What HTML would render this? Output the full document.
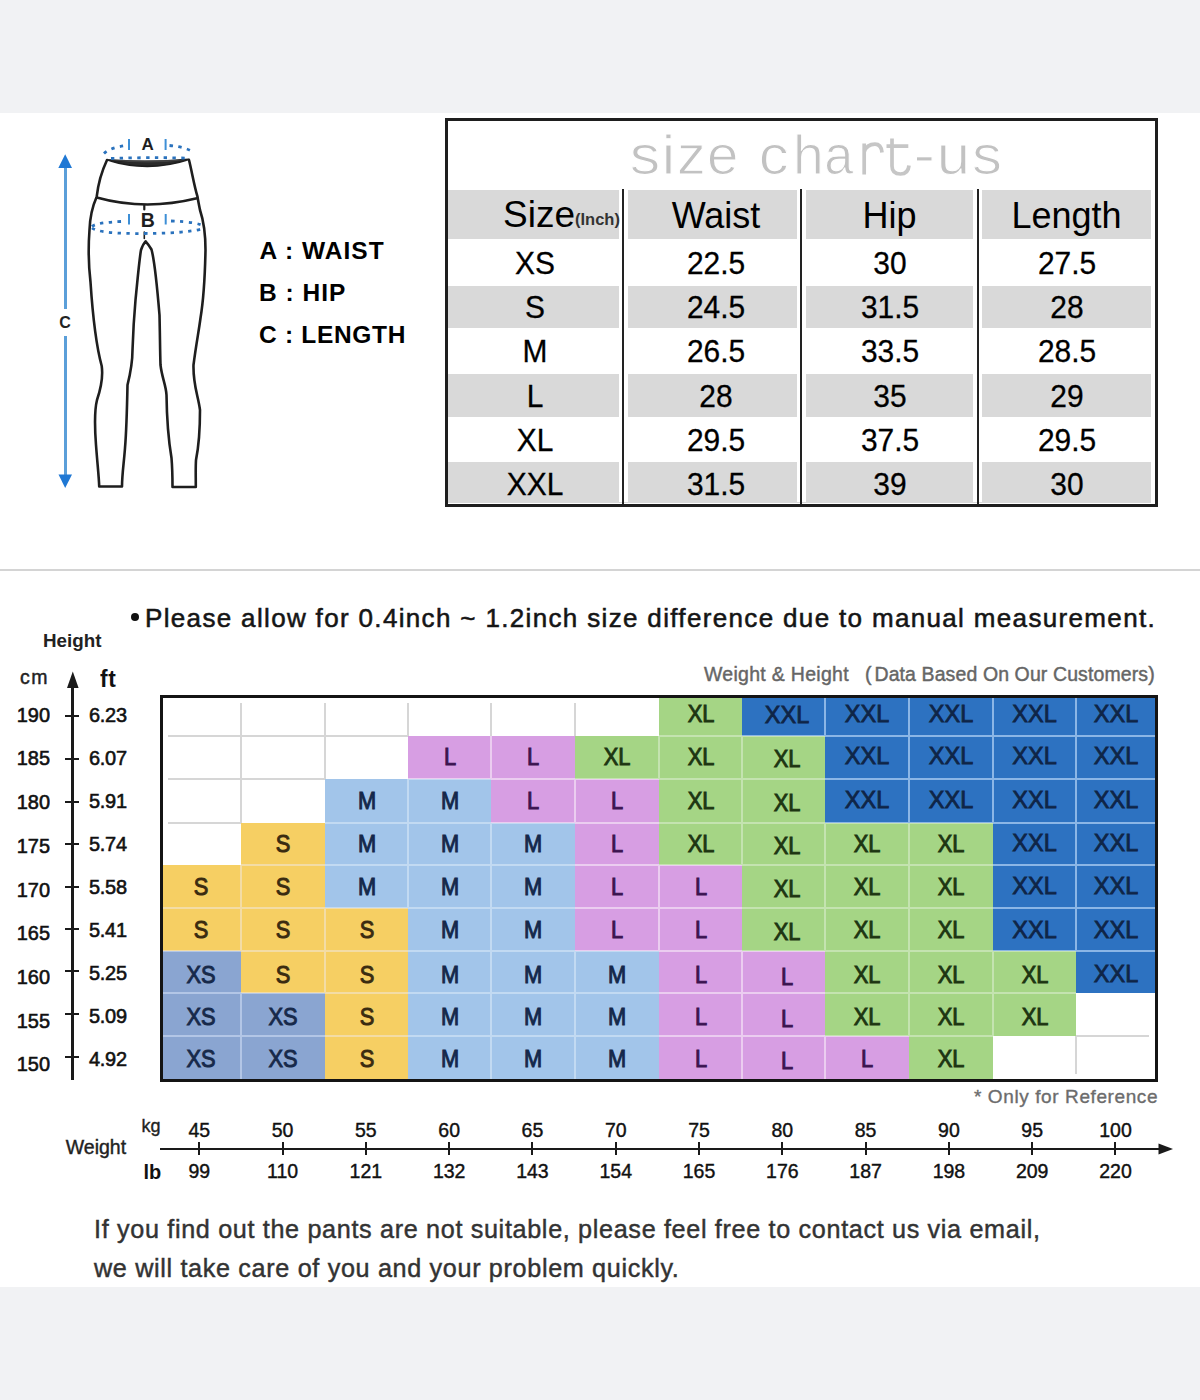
<!DOCTYPE html>
<html><head><meta charset="utf-8"><title>Size chart</title>
<style>
html,body{margin:0;padding:0;}
body{width:1200px;height:1400px;background:#f1f2f4;position:relative;overflow:hidden;font-family:"Liberation Sans", sans-serif;}
.t{position:absolute;line-height:1;white-space:nowrap;}
.r{position:absolute;}
svg{position:absolute;left:0;top:0;}
</style></head><body>
<div class="r" style="left:0.00px;top:113.00px;width:1200.00px;height:1174.00px;background:#fff;"></div>
<div class="r" style="left:448.00px;top:189.50px;width:703.00px;height:49.50px;background:#d9d9d9;"></div>
<div class="r" style="left:448.00px;top:286.00px;width:703.00px;height:42.00px;background:#d9d9d9;"></div>
<div class="r" style="left:448.00px;top:374.00px;width:703.00px;height:43.00px;background:#d9d9d9;"></div>
<div class="r" style="left:448.00px;top:462.00px;width:703.00px;height:40.50px;background:#d9d9d9;"></div>
<div class="t" style="left:629.94px;top:126.60px;font-size:56px;color:#c2c2c2;transform:scaleX(1.085);transform-origin:1.56px 0;-webkit-text-stroke:1.1px #fff;">s</div>
<div class="t" style="left:662.25px;top:126.60px;font-size:56px;color:#c2c2c2;transform:scaleX(1.117);transform-origin:3.75px 0;-webkit-text-stroke:1.1px #fff;">i</div>
<div class="t" style="left:677.23px;top:126.60px;font-size:56px;color:#c2c2c2;transform:scaleX(1.024);transform-origin:2.27px 0;-webkit-text-stroke:1.1px #fff;">z</div>
<div class="t" style="left:706.62px;top:126.60px;font-size:56px;color:#c2c2c2;transform:scaleX(1.008);transform-origin:2.38px 0;-webkit-text-stroke:1.1px #fff;">e</div>
<div class="t" style="left:759.32px;top:126.60px;font-size:56px;color:#c2c2c2;transform:scaleX(1.069);transform-origin:2.38px 0;-webkit-text-stroke:1.1px #fff;">c</div>
<div class="t" style="left:792.82px;top:126.60px;font-size:56px;color:#c2c2c2;transform:scaleX(0.986);transform-origin:3.88px 0;-webkit-text-stroke:1.1px #fff;">h</div>
<div class="t" style="left:823.92px;top:126.60px;font-size:56px;color:#c2c2c2;transform:scaleX(0.935);transform-origin:2.38px 0;-webkit-text-stroke:1.1px #fff;">a</div>
<div class="t" style="left:914.11px;top:126.60px;font-size:56px;color:#c2c2c2;transform:scaleX(1.156);transform-origin:2.49px 0;-webkit-text-stroke:1.1px #fff;">-</div>
<div class="t" style="left:936.66px;top:126.60px;font-size:56px;color:#c2c2c2;transform:scaleX(1.068);transform-origin:3.64px 0;-webkit-text-stroke:1.1px #fff;">u</div>
<div class="t" style="left:972.04px;top:126.60px;font-size:56px;color:#c2c2c2;transform:scaleX(1.069);transform-origin:1.56px 0;-webkit-text-stroke:1.1px #fff;">s</div>
<svg width="1200" height="300" style="position:absolute;left:0;top:0"><g fill="none" stroke="#c6c6c6" stroke-width="3.7"><path d="M864.2,143.5 L864.2,174.5 M864.2,152 C866,146.5 870,144.2 875,144.2 C879,144.2 881.5,147 882,152.5"/><path d="M892,138.5 L892,166 C892,171.5 895,174 900.5,174 C905.5,174 908.5,171 909,165.5 M886.5,146.2 L908.3,146.2"/></g></svg>
<div class="r" style="left:618.50px;top:189.00px;width:9.00px;height:313.00px;background:#fff;"></div>
<div class="r" style="left:622.00px;top:189.00px;width:2.20px;height:316.00px;background:#222;"></div>
<div class="r" style="left:796.50px;top:189.00px;width:9.00px;height:313.00px;background:#fff;"></div>
<div class="r" style="left:800.00px;top:189.00px;width:2.20px;height:316.00px;background:#222;"></div>
<div class="r" style="left:973.00px;top:189.00px;width:9.00px;height:313.00px;background:#fff;"></div>
<div class="r" style="left:976.50px;top:189.00px;width:2.20px;height:316.00px;background:#222;"></div>
<div class="r" style="left:444.5px;top:118px;width:707px;height:382.5px;border:3px solid #1e1e1e;"></div>
<div class="t" style="left:503.00px;top:196.18px;font-size:37px;color:#000;">Size</div>
<div class="t" style="left:575.00px;top:210.83px;font-size:16.5px;color:#333;font-weight:bold;">(Inch)</div>
<div class="t" style="left:616.00px;top:197.53px;width:200px;text-align:center;font-size:36px;color:#000;">Waist</div>
<div class="t" style="left:789.50px;top:197.53px;width:200px;text-align:center;font-size:36px;color:#000;">Hip</div>
<div class="t" style="left:966.50px;top:197.53px;width:200px;text-align:center;font-size:36px;color:#000;">Length</div>
<div class="t" style="left:435.00px;top:246.91px;width:200px;text-align:center;font-size:32px;color:#000;transform:scaleX(0.935);-webkit-text-stroke:0.3px #000;">XS</div>
<div class="t" style="left:615.50px;top:246.91px;width:200px;text-align:center;font-size:32px;color:#000;transform:scaleX(0.935);-webkit-text-stroke:0.3px #000;">22.5</div>
<div class="t" style="left:790.00px;top:246.91px;width:200px;text-align:center;font-size:32px;color:#000;transform:scaleX(0.935);-webkit-text-stroke:0.3px #000;">30</div>
<div class="t" style="left:966.50px;top:246.91px;width:200px;text-align:center;font-size:32px;color:#000;transform:scaleX(0.935);-webkit-text-stroke:0.3px #000;">27.5</div>
<div class="t" style="left:435.00px;top:290.91px;width:200px;text-align:center;font-size:32px;color:#000;transform:scaleX(0.935);-webkit-text-stroke:0.3px #000;">S</div>
<div class="t" style="left:615.50px;top:290.91px;width:200px;text-align:center;font-size:32px;color:#000;transform:scaleX(0.935);-webkit-text-stroke:0.3px #000;">24.5</div>
<div class="t" style="left:790.00px;top:290.91px;width:200px;text-align:center;font-size:32px;color:#000;transform:scaleX(0.935);-webkit-text-stroke:0.3px #000;">31.5</div>
<div class="t" style="left:966.50px;top:290.91px;width:200px;text-align:center;font-size:32px;color:#000;transform:scaleX(0.935);-webkit-text-stroke:0.3px #000;">28</div>
<div class="t" style="left:435.00px;top:334.91px;width:200px;text-align:center;font-size:32px;color:#000;transform:scaleX(0.935);-webkit-text-stroke:0.3px #000;">M</div>
<div class="t" style="left:615.50px;top:334.91px;width:200px;text-align:center;font-size:32px;color:#000;transform:scaleX(0.935);-webkit-text-stroke:0.3px #000;">26.5</div>
<div class="t" style="left:790.00px;top:334.91px;width:200px;text-align:center;font-size:32px;color:#000;transform:scaleX(0.935);-webkit-text-stroke:0.3px #000;">33.5</div>
<div class="t" style="left:966.50px;top:334.91px;width:200px;text-align:center;font-size:32px;color:#000;transform:scaleX(0.935);-webkit-text-stroke:0.3px #000;">28.5</div>
<div class="t" style="left:435.00px;top:379.91px;width:200px;text-align:center;font-size:32px;color:#000;transform:scaleX(0.935);-webkit-text-stroke:0.3px #000;">L</div>
<div class="t" style="left:615.50px;top:379.91px;width:200px;text-align:center;font-size:32px;color:#000;transform:scaleX(0.935);-webkit-text-stroke:0.3px #000;">28</div>
<div class="t" style="left:790.00px;top:379.91px;width:200px;text-align:center;font-size:32px;color:#000;transform:scaleX(0.935);-webkit-text-stroke:0.3px #000;">35</div>
<div class="t" style="left:966.50px;top:379.91px;width:200px;text-align:center;font-size:32px;color:#000;transform:scaleX(0.935);-webkit-text-stroke:0.3px #000;">29</div>
<div class="t" style="left:435.00px;top:423.91px;width:200px;text-align:center;font-size:32px;color:#000;transform:scaleX(0.935);-webkit-text-stroke:0.3px #000;">XL</div>
<div class="t" style="left:615.50px;top:423.91px;width:200px;text-align:center;font-size:32px;color:#000;transform:scaleX(0.935);-webkit-text-stroke:0.3px #000;">29.5</div>
<div class="t" style="left:790.00px;top:423.91px;width:200px;text-align:center;font-size:32px;color:#000;transform:scaleX(0.935);-webkit-text-stroke:0.3px #000;">37.5</div>
<div class="t" style="left:966.50px;top:423.91px;width:200px;text-align:center;font-size:32px;color:#000;transform:scaleX(0.935);-webkit-text-stroke:0.3px #000;">29.5</div>
<div class="t" style="left:435.00px;top:467.91px;width:200px;text-align:center;font-size:32px;color:#000;transform:scaleX(0.935);-webkit-text-stroke:0.3px #000;">XXL</div>
<div class="t" style="left:615.50px;top:467.91px;width:200px;text-align:center;font-size:32px;color:#000;transform:scaleX(0.935);-webkit-text-stroke:0.3px #000;">31.5</div>
<div class="t" style="left:790.00px;top:467.91px;width:200px;text-align:center;font-size:32px;color:#000;transform:scaleX(0.935);-webkit-text-stroke:0.3px #000;">39</div>
<div class="t" style="left:966.50px;top:467.91px;width:200px;text-align:center;font-size:32px;color:#000;transform:scaleX(0.935);-webkit-text-stroke:0.3px #000;">30</div>
<div class="t" style="left:259.50px;top:238.96px;font-size:24.5px;color:#000;font-weight:bold;letter-spacing:1px;">A : WAIST</div>
<div class="t" style="left:259.00px;top:280.76px;font-size:24.5px;color:#000;font-weight:bold;letter-spacing:1px;">B : HIP</div>
<div class="t" style="left:259.00px;top:323.26px;font-size:24.5px;color:#000;font-weight:bold;letter-spacing:0.7px;">C : LENGTH</div>
<div class="r" style="left:0.00px;top:569.00px;width:1200.00px;height:2.00px;background:#d4d4d4;"></div>
<div class="r" style="left:131px;top:613px;width:8px;height:8px;border-radius:50%;background:#111;"></div>
<div class="t" style="left:145.00px;top:605.49px;font-size:26px;color:#151515;letter-spacing:1.34px;-webkit-text-stroke:0.55px #151515;">Please allow for 0.4inch ~ 1.2inch size difference due to manual measurement.</div>
<div class="t" style="left:43.00px;top:632.09px;font-size:18.8px;color:#222;font-weight:bold;">Height</div>
<div class="t" style="left:20.00px;top:668.49px;font-size:19.5px;color:#222;letter-spacing:1.6px;-webkit-text-stroke:0.45px #222;">cm</div>
<div class="t" style="left:100.00px;top:668.11px;font-size:23.5px;color:#111;font-weight:bold;letter-spacing:0.8px;transform:scaleX(0.97);transform-origin:left;">ft</div>
<div class="t" style="left:704.00px;top:664.15px;font-size:20.5px;color:#666;letter-spacing:0.32px;transform:scaleX(0.95);transform-origin:left;-webkit-text-stroke:0.45px #666;">Weight &amp; Height</div>
<div class="t" style="left:865.00px;top:664.15px;font-size:20.5px;color:#666;letter-spacing:0.12px;transform:scaleX(0.95);transform-origin:left;-webkit-text-stroke:0.45px #666;">(<span style="margin-left:3px">Data Based On Our Customers)</span></div>
<div class="r" style="left:162.50px;top:698.00px;width:78.50px;height:38.00px;background:#ffffff;"></div>
<div class="r" style="left:241.00px;top:698.00px;width:84.00px;height:38.00px;background:#ffffff;"></div>
<div class="r" style="left:325.00px;top:698.00px;width:83.00px;height:38.00px;background:#ffffff;"></div>
<div class="r" style="left:408.00px;top:698.00px;width:83.00px;height:38.00px;background:#ffffff;"></div>
<div class="r" style="left:491.00px;top:698.00px;width:84.00px;height:38.00px;background:#ffffff;"></div>
<div class="r" style="left:575.00px;top:698.00px;width:84.00px;height:38.00px;background:#ffffff;"></div>
<div class="r" style="left:659.00px;top:698.00px;width:83.00px;height:38.00px;background:#a5d585;"></div>
<div class="r" style="left:742.00px;top:698.00px;width:83.00px;height:38.00px;background:#2d72c1;"></div>
<div class="r" style="left:825.00px;top:698.00px;width:84.00px;height:38.00px;background:#2d72c1;"></div>
<div class="r" style="left:909.00px;top:698.00px;width:84.00px;height:38.00px;background:#2d72c1;"></div>
<div class="r" style="left:993.00px;top:698.00px;width:83.00px;height:38.00px;background:#2d72c1;"></div>
<div class="r" style="left:1076.00px;top:698.00px;width:78.50px;height:38.00px;background:#2d72c1;"></div>
<div class="r" style="left:162.50px;top:736.00px;width:78.50px;height:43.00px;background:#ffffff;"></div>
<div class="r" style="left:241.00px;top:736.00px;width:84.00px;height:43.00px;background:#ffffff;"></div>
<div class="r" style="left:325.00px;top:736.00px;width:83.00px;height:43.00px;background:#ffffff;"></div>
<div class="r" style="left:408.00px;top:736.00px;width:83.00px;height:43.00px;background:#d79ee3;"></div>
<div class="r" style="left:491.00px;top:736.00px;width:84.00px;height:43.00px;background:#d79ee3;"></div>
<div class="r" style="left:575.00px;top:736.00px;width:84.00px;height:43.00px;background:#a5d585;"></div>
<div class="r" style="left:659.00px;top:736.00px;width:83.00px;height:43.00px;background:#a5d585;"></div>
<div class="r" style="left:742.00px;top:736.00px;width:83.00px;height:43.00px;background:#a5d585;"></div>
<div class="r" style="left:825.00px;top:736.00px;width:84.00px;height:43.00px;background:#2d72c1;"></div>
<div class="r" style="left:909.00px;top:736.00px;width:84.00px;height:43.00px;background:#2d72c1;"></div>
<div class="r" style="left:993.00px;top:736.00px;width:83.00px;height:43.00px;background:#2d72c1;"></div>
<div class="r" style="left:1076.00px;top:736.00px;width:78.50px;height:43.00px;background:#2d72c1;"></div>
<div class="r" style="left:162.50px;top:779.00px;width:78.50px;height:44.00px;background:#ffffff;"></div>
<div class="r" style="left:241.00px;top:779.00px;width:84.00px;height:44.00px;background:#ffffff;"></div>
<div class="r" style="left:325.00px;top:779.00px;width:83.00px;height:44.00px;background:#a2c5ea;"></div>
<div class="r" style="left:408.00px;top:779.00px;width:83.00px;height:44.00px;background:#a2c5ea;"></div>
<div class="r" style="left:491.00px;top:779.00px;width:84.00px;height:44.00px;background:#d79ee3;"></div>
<div class="r" style="left:575.00px;top:779.00px;width:84.00px;height:44.00px;background:#d79ee3;"></div>
<div class="r" style="left:659.00px;top:779.00px;width:83.00px;height:44.00px;background:#a5d585;"></div>
<div class="r" style="left:742.00px;top:779.00px;width:83.00px;height:44.00px;background:#a5d585;"></div>
<div class="r" style="left:825.00px;top:779.00px;width:84.00px;height:44.00px;background:#2d72c1;"></div>
<div class="r" style="left:909.00px;top:779.00px;width:84.00px;height:44.00px;background:#2d72c1;"></div>
<div class="r" style="left:993.00px;top:779.00px;width:83.00px;height:44.00px;background:#2d72c1;"></div>
<div class="r" style="left:1076.00px;top:779.00px;width:78.50px;height:44.00px;background:#2d72c1;"></div>
<div class="r" style="left:162.50px;top:823.00px;width:78.50px;height:42.00px;background:#ffffff;"></div>
<div class="r" style="left:241.00px;top:823.00px;width:84.00px;height:42.00px;background:#f6cf63;"></div>
<div class="r" style="left:325.00px;top:823.00px;width:83.00px;height:42.00px;background:#a2c5ea;"></div>
<div class="r" style="left:408.00px;top:823.00px;width:83.00px;height:42.00px;background:#a2c5ea;"></div>
<div class="r" style="left:491.00px;top:823.00px;width:84.00px;height:42.00px;background:#a2c5ea;"></div>
<div class="r" style="left:575.00px;top:823.00px;width:84.00px;height:42.00px;background:#d79ee3;"></div>
<div class="r" style="left:659.00px;top:823.00px;width:83.00px;height:42.00px;background:#a5d585;"></div>
<div class="r" style="left:742.00px;top:823.00px;width:83.00px;height:42.00px;background:#a5d585;"></div>
<div class="r" style="left:825.00px;top:823.00px;width:84.00px;height:42.00px;background:#a5d585;"></div>
<div class="r" style="left:909.00px;top:823.00px;width:84.00px;height:42.00px;background:#a5d585;"></div>
<div class="r" style="left:993.00px;top:823.00px;width:83.00px;height:42.00px;background:#2d72c1;"></div>
<div class="r" style="left:1076.00px;top:823.00px;width:78.50px;height:42.00px;background:#2d72c1;"></div>
<div class="r" style="left:162.50px;top:865.00px;width:78.50px;height:43.00px;background:#f6cf63;"></div>
<div class="r" style="left:241.00px;top:865.00px;width:84.00px;height:43.00px;background:#f6cf63;"></div>
<div class="r" style="left:325.00px;top:865.00px;width:83.00px;height:43.00px;background:#a2c5ea;"></div>
<div class="r" style="left:408.00px;top:865.00px;width:83.00px;height:43.00px;background:#a2c5ea;"></div>
<div class="r" style="left:491.00px;top:865.00px;width:84.00px;height:43.00px;background:#a2c5ea;"></div>
<div class="r" style="left:575.00px;top:865.00px;width:84.00px;height:43.00px;background:#d79ee3;"></div>
<div class="r" style="left:659.00px;top:865.00px;width:83.00px;height:43.00px;background:#d79ee3;"></div>
<div class="r" style="left:742.00px;top:865.00px;width:83.00px;height:43.00px;background:#a5d585;"></div>
<div class="r" style="left:825.00px;top:865.00px;width:84.00px;height:43.00px;background:#a5d585;"></div>
<div class="r" style="left:909.00px;top:865.00px;width:84.00px;height:43.00px;background:#a5d585;"></div>
<div class="r" style="left:993.00px;top:865.00px;width:83.00px;height:43.00px;background:#2d72c1;"></div>
<div class="r" style="left:1076.00px;top:865.00px;width:78.50px;height:43.00px;background:#2d72c1;"></div>
<div class="r" style="left:162.50px;top:908.00px;width:78.50px;height:43.00px;background:#f6cf63;"></div>
<div class="r" style="left:241.00px;top:908.00px;width:84.00px;height:43.00px;background:#f6cf63;"></div>
<div class="r" style="left:325.00px;top:908.00px;width:83.00px;height:43.00px;background:#f6cf63;"></div>
<div class="r" style="left:408.00px;top:908.00px;width:83.00px;height:43.00px;background:#a2c5ea;"></div>
<div class="r" style="left:491.00px;top:908.00px;width:84.00px;height:43.00px;background:#a2c5ea;"></div>
<div class="r" style="left:575.00px;top:908.00px;width:84.00px;height:43.00px;background:#d79ee3;"></div>
<div class="r" style="left:659.00px;top:908.00px;width:83.00px;height:43.00px;background:#d79ee3;"></div>
<div class="r" style="left:742.00px;top:908.00px;width:83.00px;height:43.00px;background:#a5d585;"></div>
<div class="r" style="left:825.00px;top:908.00px;width:84.00px;height:43.00px;background:#a5d585;"></div>
<div class="r" style="left:909.00px;top:908.00px;width:84.00px;height:43.00px;background:#a5d585;"></div>
<div class="r" style="left:993.00px;top:908.00px;width:83.00px;height:43.00px;background:#2d72c1;"></div>
<div class="r" style="left:1076.00px;top:908.00px;width:78.50px;height:43.00px;background:#2d72c1;"></div>
<div class="r" style="left:162.50px;top:951.00px;width:78.50px;height:42.00px;background:#8aa5d1;"></div>
<div class="r" style="left:241.00px;top:951.00px;width:84.00px;height:42.00px;background:#f6cf63;"></div>
<div class="r" style="left:325.00px;top:951.00px;width:83.00px;height:42.00px;background:#f6cf63;"></div>
<div class="r" style="left:408.00px;top:951.00px;width:83.00px;height:42.00px;background:#a2c5ea;"></div>
<div class="r" style="left:491.00px;top:951.00px;width:84.00px;height:42.00px;background:#a2c5ea;"></div>
<div class="r" style="left:575.00px;top:951.00px;width:84.00px;height:42.00px;background:#a2c5ea;"></div>
<div class="r" style="left:659.00px;top:951.00px;width:83.00px;height:42.00px;background:#d79ee3;"></div>
<div class="r" style="left:742.00px;top:951.00px;width:83.00px;height:42.00px;background:#d79ee3;"></div>
<div class="r" style="left:825.00px;top:951.00px;width:84.00px;height:42.00px;background:#a5d585;"></div>
<div class="r" style="left:909.00px;top:951.00px;width:84.00px;height:42.00px;background:#a5d585;"></div>
<div class="r" style="left:993.00px;top:951.00px;width:83.00px;height:42.00px;background:#a5d585;"></div>
<div class="r" style="left:1076.00px;top:951.00px;width:78.50px;height:42.00px;background:#2d72c1;"></div>
<div class="r" style="left:162.50px;top:993.00px;width:78.50px;height:43.00px;background:#8aa5d1;"></div>
<div class="r" style="left:241.00px;top:993.00px;width:84.00px;height:43.00px;background:#8aa5d1;"></div>
<div class="r" style="left:325.00px;top:993.00px;width:83.00px;height:43.00px;background:#f6cf63;"></div>
<div class="r" style="left:408.00px;top:993.00px;width:83.00px;height:43.00px;background:#a2c5ea;"></div>
<div class="r" style="left:491.00px;top:993.00px;width:84.00px;height:43.00px;background:#a2c5ea;"></div>
<div class="r" style="left:575.00px;top:993.00px;width:84.00px;height:43.00px;background:#a2c5ea;"></div>
<div class="r" style="left:659.00px;top:993.00px;width:83.00px;height:43.00px;background:#d79ee3;"></div>
<div class="r" style="left:742.00px;top:993.00px;width:83.00px;height:43.00px;background:#d79ee3;"></div>
<div class="r" style="left:825.00px;top:993.00px;width:84.00px;height:43.00px;background:#a5d585;"></div>
<div class="r" style="left:909.00px;top:993.00px;width:84.00px;height:43.00px;background:#a5d585;"></div>
<div class="r" style="left:993.00px;top:993.00px;width:83.00px;height:43.00px;background:#a5d585;"></div>
<div class="r" style="left:1076.00px;top:993.00px;width:78.50px;height:43.00px;background:#ffffff;"></div>
<div class="r" style="left:162.50px;top:1036.00px;width:78.50px;height:43.00px;background:#8aa5d1;"></div>
<div class="r" style="left:241.00px;top:1036.00px;width:84.00px;height:43.00px;background:#8aa5d1;"></div>
<div class="r" style="left:325.00px;top:1036.00px;width:83.00px;height:43.00px;background:#f6cf63;"></div>
<div class="r" style="left:408.00px;top:1036.00px;width:83.00px;height:43.00px;background:#a2c5ea;"></div>
<div class="r" style="left:491.00px;top:1036.00px;width:84.00px;height:43.00px;background:#a2c5ea;"></div>
<div class="r" style="left:575.00px;top:1036.00px;width:84.00px;height:43.00px;background:#a2c5ea;"></div>
<div class="r" style="left:659.00px;top:1036.00px;width:83.00px;height:43.00px;background:#d79ee3;"></div>
<div class="r" style="left:742.00px;top:1036.00px;width:83.00px;height:43.00px;background:#d79ee3;"></div>
<div class="r" style="left:825.00px;top:1036.00px;width:84.00px;height:43.00px;background:#d79ee3;"></div>
<div class="r" style="left:909.00px;top:1036.00px;width:84.00px;height:43.00px;background:#a5d585;"></div>
<div class="r" style="left:993.00px;top:1036.00px;width:83.00px;height:43.00px;background:#ffffff;"></div>
<div class="r" style="left:1076.00px;top:1036.00px;width:78.50px;height:43.00px;background:#ffffff;"></div>
<div class="r" style="left:240.00px;top:703.00px;width:2.00px;height:33.00px;background:#d6d6d6;"></div>
<div class="r" style="left:168.00px;top:735.00px;width:73.00px;height:2.00px;background:#d6d6d6;"></div>
<div class="r" style="left:324.00px;top:703.00px;width:2.00px;height:33.00px;background:#d6d6d6;"></div>
<div class="r" style="left:241.00px;top:735.00px;width:84.00px;height:2.00px;background:#d6d6d6;"></div>
<div class="r" style="left:407.00px;top:703.00px;width:2.00px;height:33.00px;background:#d6d6d6;"></div>
<div class="r" style="left:325.00px;top:735.00px;width:83.00px;height:2.00px;background:#d6d6d6;"></div>
<div class="r" style="left:490.00px;top:703.00px;width:2.00px;height:33.00px;background:#d6d6d6;"></div>
<div class="r" style="left:574.00px;top:703.00px;width:2.00px;height:33.00px;background:#d6d6d6;"></div>
<div class="r" style="left:659.00px;top:735.00px;width:83.00px;height:1.00px;background:#c4e3b0;"></div>
<div class="r" style="left:659.00px;top:736.00px;width:83.00px;height:1.00px;background:#c4e3b0;"></div>
<div class="r" style="left:824.00px;top:698.00px;width:2.00px;height:38.00px;background:#8bb6e6;"></div>
<div class="r" style="left:742.00px;top:735.00px;width:83.00px;height:1.00px;background:#8bb6e6;"></div>
<div class="r" style="left:742.00px;top:736.00px;width:83.00px;height:1.00px;background:#c4e3b0;"></div>
<div class="r" style="left:908.00px;top:698.00px;width:2.00px;height:38.00px;background:#8bb6e6;"></div>
<div class="r" style="left:825.00px;top:735.00px;width:84.00px;height:1.00px;background:#8bb6e6;"></div>
<div class="r" style="left:825.00px;top:736.00px;width:84.00px;height:1.00px;background:#8bb6e6;"></div>
<div class="r" style="left:992.00px;top:698.00px;width:2.00px;height:38.00px;background:#8bb6e6;"></div>
<div class="r" style="left:909.00px;top:735.00px;width:84.00px;height:1.00px;background:#8bb6e6;"></div>
<div class="r" style="left:909.00px;top:736.00px;width:84.00px;height:1.00px;background:#8bb6e6;"></div>
<div class="r" style="left:1075.00px;top:698.00px;width:2.00px;height:38.00px;background:#8bb6e6;"></div>
<div class="r" style="left:993.00px;top:735.00px;width:83.00px;height:1.00px;background:#8bb6e6;"></div>
<div class="r" style="left:993.00px;top:736.00px;width:83.00px;height:1.00px;background:#8bb6e6;"></div>
<div class="r" style="left:1076.00px;top:735.00px;width:78.50px;height:1.00px;background:#8bb6e6;"></div>
<div class="r" style="left:1076.00px;top:736.00px;width:78.50px;height:1.00px;background:#8bb6e6;"></div>
<div class="r" style="left:240.00px;top:736.00px;width:2.00px;height:43.00px;background:#d6d6d6;"></div>
<div class="r" style="left:168.00px;top:778.00px;width:73.00px;height:2.00px;background:#d6d6d6;"></div>
<div class="r" style="left:324.00px;top:736.00px;width:2.00px;height:43.00px;background:#d6d6d6;"></div>
<div class="r" style="left:241.00px;top:778.00px;width:84.00px;height:2.00px;background:#d6d6d6;"></div>
<div class="r" style="left:490.00px;top:736.00px;width:2.00px;height:43.00px;background:#ebcdf0;"></div>
<div class="r" style="left:408.00px;top:778.00px;width:83.00px;height:1.00px;background:#ebcdf0;"></div>
<div class="r" style="left:408.00px;top:779.00px;width:83.00px;height:1.00px;background:#c2daf2;"></div>
<div class="r" style="left:491.00px;top:778.00px;width:84.00px;height:1.00px;background:#ebcdf0;"></div>
<div class="r" style="left:491.00px;top:779.00px;width:84.00px;height:1.00px;background:#ebcdf0;"></div>
<div class="r" style="left:658.00px;top:736.00px;width:2.00px;height:43.00px;background:#c4e3b0;"></div>
<div class="r" style="left:575.00px;top:778.00px;width:84.00px;height:1.00px;background:#c4e3b0;"></div>
<div class="r" style="left:575.00px;top:779.00px;width:84.00px;height:1.00px;background:#ebcdf0;"></div>
<div class="r" style="left:741.00px;top:736.00px;width:2.00px;height:43.00px;background:#c4e3b0;"></div>
<div class="r" style="left:659.00px;top:778.00px;width:83.00px;height:1.00px;background:#c4e3b0;"></div>
<div class="r" style="left:659.00px;top:779.00px;width:83.00px;height:1.00px;background:#c4e3b0;"></div>
<div class="r" style="left:742.00px;top:778.00px;width:83.00px;height:1.00px;background:#c4e3b0;"></div>
<div class="r" style="left:742.00px;top:779.00px;width:83.00px;height:1.00px;background:#c4e3b0;"></div>
<div class="r" style="left:908.00px;top:736.00px;width:2.00px;height:43.00px;background:#8bb6e6;"></div>
<div class="r" style="left:825.00px;top:778.00px;width:84.00px;height:1.00px;background:#8bb6e6;"></div>
<div class="r" style="left:825.00px;top:779.00px;width:84.00px;height:1.00px;background:#8bb6e6;"></div>
<div class="r" style="left:992.00px;top:736.00px;width:2.00px;height:43.00px;background:#8bb6e6;"></div>
<div class="r" style="left:909.00px;top:778.00px;width:84.00px;height:1.00px;background:#8bb6e6;"></div>
<div class="r" style="left:909.00px;top:779.00px;width:84.00px;height:1.00px;background:#8bb6e6;"></div>
<div class="r" style="left:1075.00px;top:736.00px;width:2.00px;height:43.00px;background:#8bb6e6;"></div>
<div class="r" style="left:993.00px;top:778.00px;width:83.00px;height:1.00px;background:#8bb6e6;"></div>
<div class="r" style="left:993.00px;top:779.00px;width:83.00px;height:1.00px;background:#8bb6e6;"></div>
<div class="r" style="left:1076.00px;top:778.00px;width:78.50px;height:1.00px;background:#8bb6e6;"></div>
<div class="r" style="left:1076.00px;top:779.00px;width:78.50px;height:1.00px;background:#8bb6e6;"></div>
<div class="r" style="left:240.00px;top:779.00px;width:2.00px;height:44.00px;background:#d6d6d6;"></div>
<div class="r" style="left:168.00px;top:822.00px;width:73.00px;height:2.00px;background:#d6d6d6;"></div>
<div class="r" style="left:407.00px;top:779.00px;width:2.00px;height:44.00px;background:#c2daf2;"></div>
<div class="r" style="left:325.00px;top:822.00px;width:83.00px;height:1.00px;background:#c2daf2;"></div>
<div class="r" style="left:325.00px;top:823.00px;width:83.00px;height:1.00px;background:#c2daf2;"></div>
<div class="r" style="left:408.00px;top:822.00px;width:83.00px;height:1.00px;background:#c2daf2;"></div>
<div class="r" style="left:408.00px;top:823.00px;width:83.00px;height:1.00px;background:#c2daf2;"></div>
<div class="r" style="left:574.00px;top:779.00px;width:2.00px;height:44.00px;background:#ebcdf0;"></div>
<div class="r" style="left:491.00px;top:822.00px;width:84.00px;height:1.00px;background:#ebcdf0;"></div>
<div class="r" style="left:491.00px;top:823.00px;width:84.00px;height:1.00px;background:#c2daf2;"></div>
<div class="r" style="left:575.00px;top:822.00px;width:84.00px;height:1.00px;background:#ebcdf0;"></div>
<div class="r" style="left:575.00px;top:823.00px;width:84.00px;height:1.00px;background:#ebcdf0;"></div>
<div class="r" style="left:741.00px;top:779.00px;width:2.00px;height:44.00px;background:#c4e3b0;"></div>
<div class="r" style="left:659.00px;top:822.00px;width:83.00px;height:1.00px;background:#c4e3b0;"></div>
<div class="r" style="left:659.00px;top:823.00px;width:83.00px;height:1.00px;background:#c4e3b0;"></div>
<div class="r" style="left:742.00px;top:822.00px;width:83.00px;height:1.00px;background:#c4e3b0;"></div>
<div class="r" style="left:742.00px;top:823.00px;width:83.00px;height:1.00px;background:#c4e3b0;"></div>
<div class="r" style="left:908.00px;top:779.00px;width:2.00px;height:44.00px;background:#8bb6e6;"></div>
<div class="r" style="left:825.00px;top:822.00px;width:84.00px;height:1.00px;background:#8bb6e6;"></div>
<div class="r" style="left:825.00px;top:823.00px;width:84.00px;height:1.00px;background:#c4e3b0;"></div>
<div class="r" style="left:992.00px;top:779.00px;width:2.00px;height:44.00px;background:#8bb6e6;"></div>
<div class="r" style="left:909.00px;top:822.00px;width:84.00px;height:1.00px;background:#8bb6e6;"></div>
<div class="r" style="left:909.00px;top:823.00px;width:84.00px;height:1.00px;background:#c4e3b0;"></div>
<div class="r" style="left:1075.00px;top:779.00px;width:2.00px;height:44.00px;background:#8bb6e6;"></div>
<div class="r" style="left:993.00px;top:822.00px;width:83.00px;height:1.00px;background:#8bb6e6;"></div>
<div class="r" style="left:993.00px;top:823.00px;width:83.00px;height:1.00px;background:#8bb6e6;"></div>
<div class="r" style="left:1076.00px;top:822.00px;width:78.50px;height:1.00px;background:#8bb6e6;"></div>
<div class="r" style="left:1076.00px;top:823.00px;width:78.50px;height:1.00px;background:#8bb6e6;"></div>
<div class="r" style="left:241.00px;top:864.00px;width:84.00px;height:1.00px;background:#f3dca5;"></div>
<div class="r" style="left:241.00px;top:865.00px;width:84.00px;height:1.00px;background:#f3dca5;"></div>
<div class="r" style="left:407.00px;top:823.00px;width:2.00px;height:42.00px;background:#c2daf2;"></div>
<div class="r" style="left:325.00px;top:864.00px;width:83.00px;height:1.00px;background:#c2daf2;"></div>
<div class="r" style="left:325.00px;top:865.00px;width:83.00px;height:1.00px;background:#c2daf2;"></div>
<div class="r" style="left:490.00px;top:823.00px;width:2.00px;height:42.00px;background:#c2daf2;"></div>
<div class="r" style="left:408.00px;top:864.00px;width:83.00px;height:1.00px;background:#c2daf2;"></div>
<div class="r" style="left:408.00px;top:865.00px;width:83.00px;height:1.00px;background:#c2daf2;"></div>
<div class="r" style="left:491.00px;top:864.00px;width:84.00px;height:1.00px;background:#c2daf2;"></div>
<div class="r" style="left:491.00px;top:865.00px;width:84.00px;height:1.00px;background:#c2daf2;"></div>
<div class="r" style="left:575.00px;top:864.00px;width:84.00px;height:1.00px;background:#ebcdf0;"></div>
<div class="r" style="left:575.00px;top:865.00px;width:84.00px;height:1.00px;background:#ebcdf0;"></div>
<div class="r" style="left:741.00px;top:823.00px;width:2.00px;height:42.00px;background:#c4e3b0;"></div>
<div class="r" style="left:659.00px;top:864.00px;width:83.00px;height:1.00px;background:#c4e3b0;"></div>
<div class="r" style="left:659.00px;top:865.00px;width:83.00px;height:1.00px;background:#ebcdf0;"></div>
<div class="r" style="left:824.00px;top:823.00px;width:2.00px;height:42.00px;background:#c4e3b0;"></div>
<div class="r" style="left:742.00px;top:864.00px;width:83.00px;height:1.00px;background:#c4e3b0;"></div>
<div class="r" style="left:742.00px;top:865.00px;width:83.00px;height:1.00px;background:#c4e3b0;"></div>
<div class="r" style="left:908.00px;top:823.00px;width:2.00px;height:42.00px;background:#c4e3b0;"></div>
<div class="r" style="left:825.00px;top:864.00px;width:84.00px;height:1.00px;background:#c4e3b0;"></div>
<div class="r" style="left:825.00px;top:865.00px;width:84.00px;height:1.00px;background:#c4e3b0;"></div>
<div class="r" style="left:909.00px;top:864.00px;width:84.00px;height:1.00px;background:#c4e3b0;"></div>
<div class="r" style="left:909.00px;top:865.00px;width:84.00px;height:1.00px;background:#c4e3b0;"></div>
<div class="r" style="left:1075.00px;top:823.00px;width:2.00px;height:42.00px;background:#8bb6e6;"></div>
<div class="r" style="left:993.00px;top:864.00px;width:83.00px;height:1.00px;background:#8bb6e6;"></div>
<div class="r" style="left:993.00px;top:865.00px;width:83.00px;height:1.00px;background:#8bb6e6;"></div>
<div class="r" style="left:1076.00px;top:864.00px;width:78.50px;height:1.00px;background:#8bb6e6;"></div>
<div class="r" style="left:1076.00px;top:865.00px;width:78.50px;height:1.00px;background:#8bb6e6;"></div>
<div class="r" style="left:240.00px;top:865.00px;width:2.00px;height:43.00px;background:#f3dca5;"></div>
<div class="r" style="left:162.50px;top:907.00px;width:78.50px;height:1.00px;background:#f3dca5;"></div>
<div class="r" style="left:162.50px;top:908.00px;width:78.50px;height:1.00px;background:#f3dca5;"></div>
<div class="r" style="left:241.00px;top:907.00px;width:84.00px;height:1.00px;background:#f3dca5;"></div>
<div class="r" style="left:241.00px;top:908.00px;width:84.00px;height:1.00px;background:#f3dca5;"></div>
<div class="r" style="left:407.00px;top:865.00px;width:2.00px;height:43.00px;background:#c2daf2;"></div>
<div class="r" style="left:325.00px;top:907.00px;width:83.00px;height:1.00px;background:#c2daf2;"></div>
<div class="r" style="left:325.00px;top:908.00px;width:83.00px;height:1.00px;background:#f3dca5;"></div>
<div class="r" style="left:490.00px;top:865.00px;width:2.00px;height:43.00px;background:#c2daf2;"></div>
<div class="r" style="left:408.00px;top:907.00px;width:83.00px;height:1.00px;background:#c2daf2;"></div>
<div class="r" style="left:408.00px;top:908.00px;width:83.00px;height:1.00px;background:#c2daf2;"></div>
<div class="r" style="left:491.00px;top:907.00px;width:84.00px;height:1.00px;background:#c2daf2;"></div>
<div class="r" style="left:491.00px;top:908.00px;width:84.00px;height:1.00px;background:#c2daf2;"></div>
<div class="r" style="left:658.00px;top:865.00px;width:2.00px;height:43.00px;background:#ebcdf0;"></div>
<div class="r" style="left:575.00px;top:907.00px;width:84.00px;height:1.00px;background:#ebcdf0;"></div>
<div class="r" style="left:575.00px;top:908.00px;width:84.00px;height:1.00px;background:#ebcdf0;"></div>
<div class="r" style="left:659.00px;top:907.00px;width:83.00px;height:1.00px;background:#ebcdf0;"></div>
<div class="r" style="left:659.00px;top:908.00px;width:83.00px;height:1.00px;background:#ebcdf0;"></div>
<div class="r" style="left:824.00px;top:865.00px;width:2.00px;height:43.00px;background:#c4e3b0;"></div>
<div class="r" style="left:742.00px;top:907.00px;width:83.00px;height:1.00px;background:#c4e3b0;"></div>
<div class="r" style="left:742.00px;top:908.00px;width:83.00px;height:1.00px;background:#c4e3b0;"></div>
<div class="r" style="left:908.00px;top:865.00px;width:2.00px;height:43.00px;background:#c4e3b0;"></div>
<div class="r" style="left:825.00px;top:907.00px;width:84.00px;height:1.00px;background:#c4e3b0;"></div>
<div class="r" style="left:825.00px;top:908.00px;width:84.00px;height:1.00px;background:#c4e3b0;"></div>
<div class="r" style="left:909.00px;top:907.00px;width:84.00px;height:1.00px;background:#c4e3b0;"></div>
<div class="r" style="left:909.00px;top:908.00px;width:84.00px;height:1.00px;background:#c4e3b0;"></div>
<div class="r" style="left:1075.00px;top:865.00px;width:2.00px;height:43.00px;background:#8bb6e6;"></div>
<div class="r" style="left:993.00px;top:907.00px;width:83.00px;height:1.00px;background:#8bb6e6;"></div>
<div class="r" style="left:993.00px;top:908.00px;width:83.00px;height:1.00px;background:#8bb6e6;"></div>
<div class="r" style="left:1076.00px;top:907.00px;width:78.50px;height:1.00px;background:#8bb6e6;"></div>
<div class="r" style="left:1076.00px;top:908.00px;width:78.50px;height:1.00px;background:#8bb6e6;"></div>
<div class="r" style="left:240.00px;top:908.00px;width:2.00px;height:43.00px;background:#f3dca5;"></div>
<div class="r" style="left:162.50px;top:950.00px;width:78.50px;height:1.00px;background:#f3dca5;"></div>
<div class="r" style="left:162.50px;top:951.00px;width:78.50px;height:1.00px;background:#b3c6e6;"></div>
<div class="r" style="left:324.00px;top:908.00px;width:2.00px;height:43.00px;background:#f3dca5;"></div>
<div class="r" style="left:241.00px;top:950.00px;width:84.00px;height:1.00px;background:#f3dca5;"></div>
<div class="r" style="left:241.00px;top:951.00px;width:84.00px;height:1.00px;background:#f3dca5;"></div>
<div class="r" style="left:325.00px;top:950.00px;width:83.00px;height:1.00px;background:#f3dca5;"></div>
<div class="r" style="left:325.00px;top:951.00px;width:83.00px;height:1.00px;background:#f3dca5;"></div>
<div class="r" style="left:490.00px;top:908.00px;width:2.00px;height:43.00px;background:#c2daf2;"></div>
<div class="r" style="left:408.00px;top:950.00px;width:83.00px;height:1.00px;background:#c2daf2;"></div>
<div class="r" style="left:408.00px;top:951.00px;width:83.00px;height:1.00px;background:#c2daf2;"></div>
<div class="r" style="left:491.00px;top:950.00px;width:84.00px;height:1.00px;background:#c2daf2;"></div>
<div class="r" style="left:491.00px;top:951.00px;width:84.00px;height:1.00px;background:#c2daf2;"></div>
<div class="r" style="left:658.00px;top:908.00px;width:2.00px;height:43.00px;background:#ebcdf0;"></div>
<div class="r" style="left:575.00px;top:950.00px;width:84.00px;height:1.00px;background:#ebcdf0;"></div>
<div class="r" style="left:575.00px;top:951.00px;width:84.00px;height:1.00px;background:#c2daf2;"></div>
<div class="r" style="left:659.00px;top:950.00px;width:83.00px;height:1.00px;background:#ebcdf0;"></div>
<div class="r" style="left:659.00px;top:951.00px;width:83.00px;height:1.00px;background:#ebcdf0;"></div>
<div class="r" style="left:824.00px;top:908.00px;width:2.00px;height:43.00px;background:#c4e3b0;"></div>
<div class="r" style="left:742.00px;top:950.00px;width:83.00px;height:1.00px;background:#c4e3b0;"></div>
<div class="r" style="left:742.00px;top:951.00px;width:83.00px;height:1.00px;background:#ebcdf0;"></div>
<div class="r" style="left:908.00px;top:908.00px;width:2.00px;height:43.00px;background:#c4e3b0;"></div>
<div class="r" style="left:825.00px;top:950.00px;width:84.00px;height:1.00px;background:#c4e3b0;"></div>
<div class="r" style="left:825.00px;top:951.00px;width:84.00px;height:1.00px;background:#c4e3b0;"></div>
<div class="r" style="left:909.00px;top:950.00px;width:84.00px;height:1.00px;background:#c4e3b0;"></div>
<div class="r" style="left:909.00px;top:951.00px;width:84.00px;height:1.00px;background:#c4e3b0;"></div>
<div class="r" style="left:1075.00px;top:908.00px;width:2.00px;height:43.00px;background:#8bb6e6;"></div>
<div class="r" style="left:993.00px;top:950.00px;width:83.00px;height:1.00px;background:#8bb6e6;"></div>
<div class="r" style="left:993.00px;top:951.00px;width:83.00px;height:1.00px;background:#c4e3b0;"></div>
<div class="r" style="left:1076.00px;top:950.00px;width:78.50px;height:1.00px;background:#8bb6e6;"></div>
<div class="r" style="left:1076.00px;top:951.00px;width:78.50px;height:1.00px;background:#8bb6e6;"></div>
<div class="r" style="left:162.50px;top:992.00px;width:78.50px;height:1.00px;background:#b3c6e6;"></div>
<div class="r" style="left:162.50px;top:993.00px;width:78.50px;height:1.00px;background:#b3c6e6;"></div>
<div class="r" style="left:324.00px;top:951.00px;width:2.00px;height:42.00px;background:#f3dca5;"></div>
<div class="r" style="left:241.00px;top:992.00px;width:84.00px;height:1.00px;background:#f3dca5;"></div>
<div class="r" style="left:241.00px;top:993.00px;width:84.00px;height:1.00px;background:#b3c6e6;"></div>
<div class="r" style="left:325.00px;top:992.00px;width:83.00px;height:1.00px;background:#f3dca5;"></div>
<div class="r" style="left:325.00px;top:993.00px;width:83.00px;height:1.00px;background:#f3dca5;"></div>
<div class="r" style="left:490.00px;top:951.00px;width:2.00px;height:42.00px;background:#c2daf2;"></div>
<div class="r" style="left:408.00px;top:992.00px;width:83.00px;height:1.00px;background:#c2daf2;"></div>
<div class="r" style="left:408.00px;top:993.00px;width:83.00px;height:1.00px;background:#c2daf2;"></div>
<div class="r" style="left:574.00px;top:951.00px;width:2.00px;height:42.00px;background:#c2daf2;"></div>
<div class="r" style="left:491.00px;top:992.00px;width:84.00px;height:1.00px;background:#c2daf2;"></div>
<div class="r" style="left:491.00px;top:993.00px;width:84.00px;height:1.00px;background:#c2daf2;"></div>
<div class="r" style="left:575.00px;top:992.00px;width:84.00px;height:1.00px;background:#c2daf2;"></div>
<div class="r" style="left:575.00px;top:993.00px;width:84.00px;height:1.00px;background:#c2daf2;"></div>
<div class="r" style="left:741.00px;top:951.00px;width:2.00px;height:42.00px;background:#ebcdf0;"></div>
<div class="r" style="left:659.00px;top:992.00px;width:83.00px;height:1.00px;background:#ebcdf0;"></div>
<div class="r" style="left:659.00px;top:993.00px;width:83.00px;height:1.00px;background:#ebcdf0;"></div>
<div class="r" style="left:742.00px;top:992.00px;width:83.00px;height:1.00px;background:#ebcdf0;"></div>
<div class="r" style="left:742.00px;top:993.00px;width:83.00px;height:1.00px;background:#ebcdf0;"></div>
<div class="r" style="left:908.00px;top:951.00px;width:2.00px;height:42.00px;background:#c4e3b0;"></div>
<div class="r" style="left:825.00px;top:992.00px;width:84.00px;height:1.00px;background:#c4e3b0;"></div>
<div class="r" style="left:825.00px;top:993.00px;width:84.00px;height:1.00px;background:#c4e3b0;"></div>
<div class="r" style="left:992.00px;top:951.00px;width:2.00px;height:42.00px;background:#c4e3b0;"></div>
<div class="r" style="left:909.00px;top:992.00px;width:84.00px;height:1.00px;background:#c4e3b0;"></div>
<div class="r" style="left:909.00px;top:993.00px;width:84.00px;height:1.00px;background:#c4e3b0;"></div>
<div class="r" style="left:993.00px;top:992.00px;width:83.00px;height:1.00px;background:#c4e3b0;"></div>
<div class="r" style="left:993.00px;top:993.00px;width:83.00px;height:1.00px;background:#c4e3b0;"></div>
<div class="r" style="left:240.00px;top:993.00px;width:2.00px;height:43.00px;background:#b3c6e6;"></div>
<div class="r" style="left:162.50px;top:1035.00px;width:78.50px;height:1.00px;background:#b3c6e6;"></div>
<div class="r" style="left:162.50px;top:1036.00px;width:78.50px;height:1.00px;background:#b3c6e6;"></div>
<div class="r" style="left:241.00px;top:1035.00px;width:84.00px;height:1.00px;background:#b3c6e6;"></div>
<div class="r" style="left:241.00px;top:1036.00px;width:84.00px;height:1.00px;background:#b3c6e6;"></div>
<div class="r" style="left:325.00px;top:1035.00px;width:83.00px;height:1.00px;background:#f3dca5;"></div>
<div class="r" style="left:325.00px;top:1036.00px;width:83.00px;height:1.00px;background:#f3dca5;"></div>
<div class="r" style="left:490.00px;top:993.00px;width:2.00px;height:43.00px;background:#c2daf2;"></div>
<div class="r" style="left:408.00px;top:1035.00px;width:83.00px;height:1.00px;background:#c2daf2;"></div>
<div class="r" style="left:408.00px;top:1036.00px;width:83.00px;height:1.00px;background:#c2daf2;"></div>
<div class="r" style="left:574.00px;top:993.00px;width:2.00px;height:43.00px;background:#c2daf2;"></div>
<div class="r" style="left:491.00px;top:1035.00px;width:84.00px;height:1.00px;background:#c2daf2;"></div>
<div class="r" style="left:491.00px;top:1036.00px;width:84.00px;height:1.00px;background:#c2daf2;"></div>
<div class="r" style="left:575.00px;top:1035.00px;width:84.00px;height:1.00px;background:#c2daf2;"></div>
<div class="r" style="left:575.00px;top:1036.00px;width:84.00px;height:1.00px;background:#c2daf2;"></div>
<div class="r" style="left:741.00px;top:993.00px;width:2.00px;height:43.00px;background:#ebcdf0;"></div>
<div class="r" style="left:659.00px;top:1035.00px;width:83.00px;height:1.00px;background:#ebcdf0;"></div>
<div class="r" style="left:659.00px;top:1036.00px;width:83.00px;height:1.00px;background:#ebcdf0;"></div>
<div class="r" style="left:742.00px;top:1035.00px;width:83.00px;height:1.00px;background:#ebcdf0;"></div>
<div class="r" style="left:742.00px;top:1036.00px;width:83.00px;height:1.00px;background:#ebcdf0;"></div>
<div class="r" style="left:908.00px;top:993.00px;width:2.00px;height:43.00px;background:#c4e3b0;"></div>
<div class="r" style="left:825.00px;top:1035.00px;width:84.00px;height:1.00px;background:#c4e3b0;"></div>
<div class="r" style="left:825.00px;top:1036.00px;width:84.00px;height:1.00px;background:#ebcdf0;"></div>
<div class="r" style="left:992.00px;top:993.00px;width:2.00px;height:43.00px;background:#c4e3b0;"></div>
<div class="r" style="left:909.00px;top:1035.00px;width:84.00px;height:1.00px;background:#c4e3b0;"></div>
<div class="r" style="left:909.00px;top:1036.00px;width:84.00px;height:1.00px;background:#c4e3b0;"></div>
<div class="r" style="left:1076.00px;top:1035.00px;width:73.00px;height:2.00px;background:#d6d6d6;"></div>
<div class="r" style="left:240.00px;top:1036.00px;width:2.00px;height:43.00px;background:#b3c6e6;"></div>
<div class="r" style="left:490.00px;top:1036.00px;width:2.00px;height:43.00px;background:#c2daf2;"></div>
<div class="r" style="left:574.00px;top:1036.00px;width:2.00px;height:43.00px;background:#c2daf2;"></div>
<div class="r" style="left:741.00px;top:1036.00px;width:2.00px;height:43.00px;background:#ebcdf0;"></div>
<div class="r" style="left:824.00px;top:1036.00px;width:2.00px;height:43.00px;background:#ebcdf0;"></div>
<div class="r" style="left:1075.00px;top:1036.00px;width:2.00px;height:38.00px;background:#d6d6d6;"></div>
<div class="t" style="left:660.50px;top:702.96px;width:80px;text-align:center;font-size:23.5px;color:#1d3512;transform:scaleX(0.93);-webkit-text-stroke:0.95px #1d3512;">XL</div>
<div class="t" style="left:747.00px;top:704.06px;width:80px;text-align:center;font-size:23.5px;color:#0f2547;-webkit-text-stroke:0.8px #0f2547;">XXL</div>
<div class="t" style="left:827.00px;top:702.56px;width:80px;text-align:center;font-size:23.5px;color:#0f2547;-webkit-text-stroke:0.8px #0f2547;">XXL</div>
<div class="t" style="left:911.00px;top:702.56px;width:80px;text-align:center;font-size:23.5px;color:#0f2547;-webkit-text-stroke:0.8px #0f2547;">XXL</div>
<div class="t" style="left:994.50px;top:702.56px;width:80px;text-align:center;font-size:23.5px;color:#0f2547;-webkit-text-stroke:0.8px #0f2547;">XXL</div>
<div class="t" style="left:1076.00px;top:702.56px;width:80px;text-align:center;font-size:23.5px;color:#0f2547;-webkit-text-stroke:0.8px #0f2547;">XXL</div>
<div class="t" style="left:409.50px;top:745.61px;width:80px;text-align:center;font-size:23.5px;color:#3b1450;transform:scaleX(0.93);-webkit-text-stroke:0.95px #3b1450;">L</div>
<div class="t" style="left:493.00px;top:745.61px;width:80px;text-align:center;font-size:23.5px;color:#3b1450;transform:scaleX(0.93);-webkit-text-stroke:0.95px #3b1450;">L</div>
<div class="t" style="left:577.00px;top:745.61px;width:80px;text-align:center;font-size:23.5px;color:#1d3512;transform:scaleX(0.93);-webkit-text-stroke:0.95px #1d3512;">XL</div>
<div class="t" style="left:660.50px;top:745.61px;width:80px;text-align:center;font-size:23.5px;color:#1d3512;transform:scaleX(0.93);-webkit-text-stroke:0.95px #1d3512;">XL</div>
<div class="t" style="left:747.00px;top:747.61px;width:80px;text-align:center;font-size:23.5px;color:#1d3512;transform:scaleX(0.93);-webkit-text-stroke:0.95px #1d3512;">XL</div>
<div class="t" style="left:827.00px;top:745.21px;width:80px;text-align:center;font-size:23.5px;color:#0f2547;-webkit-text-stroke:0.8px #0f2547;">XXL</div>
<div class="t" style="left:911.00px;top:745.21px;width:80px;text-align:center;font-size:23.5px;color:#0f2547;-webkit-text-stroke:0.8px #0f2547;">XXL</div>
<div class="t" style="left:994.50px;top:745.21px;width:80px;text-align:center;font-size:23.5px;color:#0f2547;-webkit-text-stroke:0.8px #0f2547;">XXL</div>
<div class="t" style="left:1076.00px;top:745.21px;width:80px;text-align:center;font-size:23.5px;color:#0f2547;-webkit-text-stroke:0.8px #0f2547;">XXL</div>
<div class="t" style="left:326.50px;top:789.71px;width:80px;text-align:center;font-size:23.5px;color:#14284a;transform:scaleX(0.93);-webkit-text-stroke:0.95px #14284a;">M</div>
<div class="t" style="left:409.50px;top:789.71px;width:80px;text-align:center;font-size:23.5px;color:#14284a;transform:scaleX(0.93);-webkit-text-stroke:0.95px #14284a;">M</div>
<div class="t" style="left:493.00px;top:789.71px;width:80px;text-align:center;font-size:23.5px;color:#3b1450;transform:scaleX(0.93);-webkit-text-stroke:0.95px #3b1450;">L</div>
<div class="t" style="left:577.00px;top:789.71px;width:80px;text-align:center;font-size:23.5px;color:#3b1450;transform:scaleX(0.93);-webkit-text-stroke:0.95px #3b1450;">L</div>
<div class="t" style="left:660.50px;top:789.71px;width:80px;text-align:center;font-size:23.5px;color:#1d3512;transform:scaleX(0.93);-webkit-text-stroke:0.95px #1d3512;">XL</div>
<div class="t" style="left:747.00px;top:791.71px;width:80px;text-align:center;font-size:23.5px;color:#1d3512;transform:scaleX(0.93);-webkit-text-stroke:0.95px #1d3512;">XL</div>
<div class="t" style="left:827.00px;top:789.31px;width:80px;text-align:center;font-size:23.5px;color:#0f2547;-webkit-text-stroke:0.8px #0f2547;">XXL</div>
<div class="t" style="left:911.00px;top:789.31px;width:80px;text-align:center;font-size:23.5px;color:#0f2547;-webkit-text-stroke:0.8px #0f2547;">XXL</div>
<div class="t" style="left:994.50px;top:789.31px;width:80px;text-align:center;font-size:23.5px;color:#0f2547;-webkit-text-stroke:0.8px #0f2547;">XXL</div>
<div class="t" style="left:1076.00px;top:789.31px;width:80px;text-align:center;font-size:23.5px;color:#0f2547;-webkit-text-stroke:0.8px #0f2547;">XXL</div>
<div class="t" style="left:243.00px;top:832.71px;width:80px;text-align:center;font-size:23.5px;color:#3a2b10;transform:scaleX(0.93);-webkit-text-stroke:0.95px #3a2b10;">S</div>
<div class="t" style="left:326.50px;top:832.71px;width:80px;text-align:center;font-size:23.5px;color:#14284a;transform:scaleX(0.93);-webkit-text-stroke:0.95px #14284a;">M</div>
<div class="t" style="left:409.50px;top:832.71px;width:80px;text-align:center;font-size:23.5px;color:#14284a;transform:scaleX(0.93);-webkit-text-stroke:0.95px #14284a;">M</div>
<div class="t" style="left:493.00px;top:832.71px;width:80px;text-align:center;font-size:23.5px;color:#14284a;transform:scaleX(0.93);-webkit-text-stroke:0.95px #14284a;">M</div>
<div class="t" style="left:577.00px;top:832.71px;width:80px;text-align:center;font-size:23.5px;color:#3b1450;transform:scaleX(0.93);-webkit-text-stroke:0.95px #3b1450;">L</div>
<div class="t" style="left:660.50px;top:832.71px;width:80px;text-align:center;font-size:23.5px;color:#1d3512;transform:scaleX(0.93);-webkit-text-stroke:0.95px #1d3512;">XL</div>
<div class="t" style="left:747.00px;top:834.71px;width:80px;text-align:center;font-size:23.5px;color:#1d3512;transform:scaleX(0.93);-webkit-text-stroke:0.95px #1d3512;">XL</div>
<div class="t" style="left:827.00px;top:832.71px;width:80px;text-align:center;font-size:23.5px;color:#1d3512;transform:scaleX(0.93);-webkit-text-stroke:0.95px #1d3512;">XL</div>
<div class="t" style="left:911.00px;top:832.71px;width:80px;text-align:center;font-size:23.5px;color:#1d3512;transform:scaleX(0.93);-webkit-text-stroke:0.95px #1d3512;">XL</div>
<div class="t" style="left:994.50px;top:832.31px;width:80px;text-align:center;font-size:23.5px;color:#0f2547;-webkit-text-stroke:0.8px #0f2547;">XXL</div>
<div class="t" style="left:1076.00px;top:832.31px;width:80px;text-align:center;font-size:23.5px;color:#0f2547;-webkit-text-stroke:0.8px #0f2547;">XXL</div>
<div class="t" style="left:161.00px;top:875.81px;width:80px;text-align:center;font-size:23.5px;color:#3a2b10;transform:scaleX(0.93);-webkit-text-stroke:0.95px #3a2b10;">S</div>
<div class="t" style="left:243.00px;top:875.81px;width:80px;text-align:center;font-size:23.5px;color:#3a2b10;transform:scaleX(0.93);-webkit-text-stroke:0.95px #3a2b10;">S</div>
<div class="t" style="left:326.50px;top:875.81px;width:80px;text-align:center;font-size:23.5px;color:#14284a;transform:scaleX(0.93);-webkit-text-stroke:0.95px #14284a;">M</div>
<div class="t" style="left:409.50px;top:875.81px;width:80px;text-align:center;font-size:23.5px;color:#14284a;transform:scaleX(0.93);-webkit-text-stroke:0.95px #14284a;">M</div>
<div class="t" style="left:493.00px;top:875.81px;width:80px;text-align:center;font-size:23.5px;color:#14284a;transform:scaleX(0.93);-webkit-text-stroke:0.95px #14284a;">M</div>
<div class="t" style="left:577.00px;top:875.81px;width:80px;text-align:center;font-size:23.5px;color:#3b1450;transform:scaleX(0.93);-webkit-text-stroke:0.95px #3b1450;">L</div>
<div class="t" style="left:660.50px;top:875.81px;width:80px;text-align:center;font-size:23.5px;color:#3b1450;transform:scaleX(0.93);-webkit-text-stroke:0.95px #3b1450;">L</div>
<div class="t" style="left:747.00px;top:877.81px;width:80px;text-align:center;font-size:23.5px;color:#1d3512;transform:scaleX(0.93);-webkit-text-stroke:0.95px #1d3512;">XL</div>
<div class="t" style="left:827.00px;top:875.81px;width:80px;text-align:center;font-size:23.5px;color:#1d3512;transform:scaleX(0.93);-webkit-text-stroke:0.95px #1d3512;">XL</div>
<div class="t" style="left:911.00px;top:875.81px;width:80px;text-align:center;font-size:23.5px;color:#1d3512;transform:scaleX(0.93);-webkit-text-stroke:0.95px #1d3512;">XL</div>
<div class="t" style="left:994.50px;top:875.41px;width:80px;text-align:center;font-size:23.5px;color:#0f2547;-webkit-text-stroke:0.8px #0f2547;">XXL</div>
<div class="t" style="left:1076.00px;top:875.41px;width:80px;text-align:center;font-size:23.5px;color:#0f2547;-webkit-text-stroke:0.8px #0f2547;">XXL</div>
<div class="t" style="left:161.00px;top:919.21px;width:80px;text-align:center;font-size:23.5px;color:#3a2b10;transform:scaleX(0.93);-webkit-text-stroke:0.95px #3a2b10;">S</div>
<div class="t" style="left:243.00px;top:919.21px;width:80px;text-align:center;font-size:23.5px;color:#3a2b10;transform:scaleX(0.93);-webkit-text-stroke:0.95px #3a2b10;">S</div>
<div class="t" style="left:326.50px;top:919.21px;width:80px;text-align:center;font-size:23.5px;color:#3a2b10;transform:scaleX(0.93);-webkit-text-stroke:0.95px #3a2b10;">S</div>
<div class="t" style="left:409.50px;top:919.21px;width:80px;text-align:center;font-size:23.5px;color:#14284a;transform:scaleX(0.93);-webkit-text-stroke:0.95px #14284a;">M</div>
<div class="t" style="left:493.00px;top:919.21px;width:80px;text-align:center;font-size:23.5px;color:#14284a;transform:scaleX(0.93);-webkit-text-stroke:0.95px #14284a;">M</div>
<div class="t" style="left:577.00px;top:919.21px;width:80px;text-align:center;font-size:23.5px;color:#3b1450;transform:scaleX(0.93);-webkit-text-stroke:0.95px #3b1450;">L</div>
<div class="t" style="left:660.50px;top:919.21px;width:80px;text-align:center;font-size:23.5px;color:#3b1450;transform:scaleX(0.93);-webkit-text-stroke:0.95px #3b1450;">L</div>
<div class="t" style="left:747.00px;top:921.21px;width:80px;text-align:center;font-size:23.5px;color:#1d3512;transform:scaleX(0.93);-webkit-text-stroke:0.95px #1d3512;">XL</div>
<div class="t" style="left:827.00px;top:919.21px;width:80px;text-align:center;font-size:23.5px;color:#1d3512;transform:scaleX(0.93);-webkit-text-stroke:0.95px #1d3512;">XL</div>
<div class="t" style="left:911.00px;top:919.21px;width:80px;text-align:center;font-size:23.5px;color:#1d3512;transform:scaleX(0.93);-webkit-text-stroke:0.95px #1d3512;">XL</div>
<div class="t" style="left:994.50px;top:918.81px;width:80px;text-align:center;font-size:23.5px;color:#0f2547;-webkit-text-stroke:0.8px #0f2547;">XXL</div>
<div class="t" style="left:1076.00px;top:918.81px;width:80px;text-align:center;font-size:23.5px;color:#0f2547;-webkit-text-stroke:0.8px #0f2547;">XXL</div>
<div class="t" style="left:161.00px;top:963.51px;width:80px;text-align:center;font-size:23.5px;color:#17294a;transform:scaleX(0.93);-webkit-text-stroke:0.95px #17294a;">XS</div>
<div class="t" style="left:243.00px;top:963.51px;width:80px;text-align:center;font-size:23.5px;color:#3a2b10;transform:scaleX(0.93);-webkit-text-stroke:0.95px #3a2b10;">S</div>
<div class="t" style="left:326.50px;top:963.51px;width:80px;text-align:center;font-size:23.5px;color:#3a2b10;transform:scaleX(0.93);-webkit-text-stroke:0.95px #3a2b10;">S</div>
<div class="t" style="left:409.50px;top:963.51px;width:80px;text-align:center;font-size:23.5px;color:#14284a;transform:scaleX(0.93);-webkit-text-stroke:0.95px #14284a;">M</div>
<div class="t" style="left:493.00px;top:963.51px;width:80px;text-align:center;font-size:23.5px;color:#14284a;transform:scaleX(0.93);-webkit-text-stroke:0.95px #14284a;">M</div>
<div class="t" style="left:577.00px;top:963.51px;width:80px;text-align:center;font-size:23.5px;color:#14284a;transform:scaleX(0.93);-webkit-text-stroke:0.95px #14284a;">M</div>
<div class="t" style="left:660.50px;top:963.51px;width:80px;text-align:center;font-size:23.5px;color:#3b1450;transform:scaleX(0.93);-webkit-text-stroke:0.95px #3b1450;">L</div>
<div class="t" style="left:747.00px;top:965.51px;width:80px;text-align:center;font-size:23.5px;color:#3b1450;transform:scaleX(0.93);-webkit-text-stroke:0.95px #3b1450;">L</div>
<div class="t" style="left:827.00px;top:963.51px;width:80px;text-align:center;font-size:23.5px;color:#1d3512;transform:scaleX(0.93);-webkit-text-stroke:0.95px #1d3512;">XL</div>
<div class="t" style="left:911.00px;top:963.51px;width:80px;text-align:center;font-size:23.5px;color:#1d3512;transform:scaleX(0.93);-webkit-text-stroke:0.95px #1d3512;">XL</div>
<div class="t" style="left:994.50px;top:963.51px;width:80px;text-align:center;font-size:23.5px;color:#1d3512;transform:scaleX(0.93);-webkit-text-stroke:0.95px #1d3512;">XL</div>
<div class="t" style="left:1076.00px;top:963.11px;width:80px;text-align:center;font-size:23.5px;color:#0f2547;-webkit-text-stroke:0.8px #0f2547;">XXL</div>
<div class="t" style="left:161.00px;top:1006.21px;width:80px;text-align:center;font-size:23.5px;color:#17294a;transform:scaleX(0.93);-webkit-text-stroke:0.95px #17294a;">XS</div>
<div class="t" style="left:243.00px;top:1006.21px;width:80px;text-align:center;font-size:23.5px;color:#17294a;transform:scaleX(0.93);-webkit-text-stroke:0.95px #17294a;">XS</div>
<div class="t" style="left:326.50px;top:1006.21px;width:80px;text-align:center;font-size:23.5px;color:#3a2b10;transform:scaleX(0.93);-webkit-text-stroke:0.95px #3a2b10;">S</div>
<div class="t" style="left:409.50px;top:1006.21px;width:80px;text-align:center;font-size:23.5px;color:#14284a;transform:scaleX(0.93);-webkit-text-stroke:0.95px #14284a;">M</div>
<div class="t" style="left:493.00px;top:1006.21px;width:80px;text-align:center;font-size:23.5px;color:#14284a;transform:scaleX(0.93);-webkit-text-stroke:0.95px #14284a;">M</div>
<div class="t" style="left:577.00px;top:1006.21px;width:80px;text-align:center;font-size:23.5px;color:#14284a;transform:scaleX(0.93);-webkit-text-stroke:0.95px #14284a;">M</div>
<div class="t" style="left:660.50px;top:1006.21px;width:80px;text-align:center;font-size:23.5px;color:#3b1450;transform:scaleX(0.93);-webkit-text-stroke:0.95px #3b1450;">L</div>
<div class="t" style="left:747.00px;top:1008.21px;width:80px;text-align:center;font-size:23.5px;color:#3b1450;transform:scaleX(0.93);-webkit-text-stroke:0.95px #3b1450;">L</div>
<div class="t" style="left:827.00px;top:1006.21px;width:80px;text-align:center;font-size:23.5px;color:#1d3512;transform:scaleX(0.93);-webkit-text-stroke:0.95px #1d3512;">XL</div>
<div class="t" style="left:911.00px;top:1006.21px;width:80px;text-align:center;font-size:23.5px;color:#1d3512;transform:scaleX(0.93);-webkit-text-stroke:0.95px #1d3512;">XL</div>
<div class="t" style="left:994.50px;top:1006.21px;width:80px;text-align:center;font-size:23.5px;color:#1d3512;transform:scaleX(0.93);-webkit-text-stroke:0.95px #1d3512;">XL</div>
<div class="t" style="left:161.00px;top:1048.26px;width:80px;text-align:center;font-size:23.5px;color:#17294a;transform:scaleX(0.93);-webkit-text-stroke:0.95px #17294a;">XS</div>
<div class="t" style="left:243.00px;top:1048.26px;width:80px;text-align:center;font-size:23.5px;color:#17294a;transform:scaleX(0.93);-webkit-text-stroke:0.95px #17294a;">XS</div>
<div class="t" style="left:326.50px;top:1048.26px;width:80px;text-align:center;font-size:23.5px;color:#3a2b10;transform:scaleX(0.93);-webkit-text-stroke:0.95px #3a2b10;">S</div>
<div class="t" style="left:409.50px;top:1048.26px;width:80px;text-align:center;font-size:23.5px;color:#14284a;transform:scaleX(0.93);-webkit-text-stroke:0.95px #14284a;">M</div>
<div class="t" style="left:493.00px;top:1048.26px;width:80px;text-align:center;font-size:23.5px;color:#14284a;transform:scaleX(0.93);-webkit-text-stroke:0.95px #14284a;">M</div>
<div class="t" style="left:577.00px;top:1048.26px;width:80px;text-align:center;font-size:23.5px;color:#14284a;transform:scaleX(0.93);-webkit-text-stroke:0.95px #14284a;">M</div>
<div class="t" style="left:660.50px;top:1048.26px;width:80px;text-align:center;font-size:23.5px;color:#3b1450;transform:scaleX(0.93);-webkit-text-stroke:0.95px #3b1450;">L</div>
<div class="t" style="left:747.00px;top:1050.26px;width:80px;text-align:center;font-size:23.5px;color:#3b1450;transform:scaleX(0.93);-webkit-text-stroke:0.95px #3b1450;">L</div>
<div class="t" style="left:827.00px;top:1048.26px;width:80px;text-align:center;font-size:23.5px;color:#3b1450;transform:scaleX(0.93);-webkit-text-stroke:0.95px #3b1450;">L</div>
<div class="t" style="left:911.00px;top:1048.26px;width:80px;text-align:center;font-size:23.5px;color:#1d3512;transform:scaleX(0.93);-webkit-text-stroke:0.95px #1d3512;">XL</div>
<div class="r" style="left:159.5px;top:695px;width:992px;height:381px;border:3px solid #141414;"></div>
<div class="r" style="left:71.20px;top:680.00px;width:2.60px;height:400.00px;background:#1a1a1a;"></div>
<div class="r" style="left:65.00px;top:715.20px;width:14.00px;height:2.00px;background:#1a1a1a;"></div>
<div class="t" style="left:-10.50px;top:703.72px;width:60px;text-align:right;font-size:21px;color:#111;transform:scaleX(0.95);-webkit-text-stroke:0.6px #111;transform-origin:right;">190</div>
<div class="t" style="left:88.50px;top:703.62px;font-size:21px;color:#111;transform:scaleX(0.95);-webkit-text-stroke:0.6px #111;transform-origin:left;letter-spacing:-0.3px;">6.23</div>
<div class="r" style="left:65.00px;top:758.00px;width:14.00px;height:2.00px;background:#1a1a1a;"></div>
<div class="t" style="left:-10.50px;top:747.42px;width:60px;text-align:right;font-size:21px;color:#111;transform:scaleX(0.95);-webkit-text-stroke:0.6px #111;transform-origin:right;">185</div>
<div class="t" style="left:88.50px;top:746.72px;font-size:21px;color:#111;transform:scaleX(0.95);-webkit-text-stroke:0.6px #111;transform-origin:left;letter-spacing:-0.3px;">6.07</div>
<div class="r" style="left:65.00px;top:800.70px;width:14.00px;height:2.00px;background:#1a1a1a;"></div>
<div class="t" style="left:-10.50px;top:791.12px;width:60px;text-align:right;font-size:21px;color:#111;transform:scaleX(0.95);-webkit-text-stroke:0.6px #111;transform-origin:right;">180</div>
<div class="t" style="left:88.50px;top:789.82px;font-size:21px;color:#111;transform:scaleX(0.95);-webkit-text-stroke:0.6px #111;transform-origin:left;letter-spacing:-0.3px;">5.91</div>
<div class="r" style="left:65.00px;top:842.70px;width:14.00px;height:2.00px;background:#1a1a1a;"></div>
<div class="t" style="left:-10.50px;top:834.82px;width:60px;text-align:right;font-size:21px;color:#111;transform:scaleX(0.95);-webkit-text-stroke:0.6px #111;transform-origin:right;">175</div>
<div class="t" style="left:88.50px;top:832.92px;font-size:21px;color:#111;transform:scaleX(0.95);-webkit-text-stroke:0.6px #111;transform-origin:left;letter-spacing:-0.3px;">5.74</div>
<div class="r" style="left:65.00px;top:885.50px;width:14.00px;height:2.00px;background:#1a1a1a;"></div>
<div class="t" style="left:-10.50px;top:878.52px;width:60px;text-align:right;font-size:21px;color:#111;transform:scaleX(0.95);-webkit-text-stroke:0.6px #111;transform-origin:right;">170</div>
<div class="t" style="left:88.50px;top:876.02px;font-size:21px;color:#111;transform:scaleX(0.95);-webkit-text-stroke:0.6px #111;transform-origin:left;letter-spacing:-0.3px;">5.58</div>
<div class="r" style="left:65.00px;top:928.10px;width:14.00px;height:2.00px;background:#1a1a1a;"></div>
<div class="t" style="left:-10.50px;top:922.22px;width:60px;text-align:right;font-size:21px;color:#111;transform:scaleX(0.95);-webkit-text-stroke:0.6px #111;transform-origin:right;">165</div>
<div class="t" style="left:88.50px;top:919.12px;font-size:21px;color:#111;transform:scaleX(0.95);-webkit-text-stroke:0.6px #111;transform-origin:left;letter-spacing:-0.3px;">5.41</div>
<div class="r" style="left:65.00px;top:970.40px;width:14.00px;height:2.00px;background:#1a1a1a;"></div>
<div class="t" style="left:-10.50px;top:965.92px;width:60px;text-align:right;font-size:21px;color:#111;transform:scaleX(0.95);-webkit-text-stroke:0.6px #111;transform-origin:right;">160</div>
<div class="t" style="left:88.50px;top:962.22px;font-size:21px;color:#111;transform:scaleX(0.95);-webkit-text-stroke:0.6px #111;transform-origin:left;letter-spacing:-0.3px;">5.25</div>
<div class="r" style="left:65.00px;top:1013.40px;width:14.00px;height:2.00px;background:#1a1a1a;"></div>
<div class="t" style="left:-10.50px;top:1009.62px;width:60px;text-align:right;font-size:21px;color:#111;transform:scaleX(0.95);-webkit-text-stroke:0.6px #111;transform-origin:right;">155</div>
<div class="t" style="left:88.50px;top:1005.32px;font-size:21px;color:#111;transform:scaleX(0.95);-webkit-text-stroke:0.6px #111;transform-origin:left;letter-spacing:-0.3px;">5.09</div>
<div class="r" style="left:65.00px;top:1055.50px;width:14.00px;height:2.00px;background:#1a1a1a;"></div>
<div class="t" style="left:-10.50px;top:1053.32px;width:60px;text-align:right;font-size:21px;color:#111;transform:scaleX(0.95);-webkit-text-stroke:0.6px #111;transform-origin:right;">150</div>
<div class="t" style="left:88.50px;top:1048.42px;font-size:21px;color:#111;transform:scaleX(0.95);-webkit-text-stroke:0.6px #111;transform-origin:left;letter-spacing:-0.3px;">4.92</div>
<div class="r" style="left:160.00px;top:1147.60px;width:1000.00px;height:2.80px;background:#1a1a1a;"></div>
<div class="r" style="left:198.00px;top:1142.00px;width:2.00px;height:13.00px;background:#1a1a1a;"></div>
<div class="t" style="left:169.30px;top:1120.79px;width:60px;text-align:center;font-size:19.5px;color:#111;-webkit-text-stroke:0.4px #111;">45</div>
<div class="t" style="left:169.30px;top:1162.29px;width:60px;text-align:center;font-size:19.5px;color:#111;-webkit-text-stroke:0.4px #111;">99</div>
<div class="r" style="left:282.00px;top:1142.00px;width:2.00px;height:13.00px;background:#1a1a1a;"></div>
<div class="t" style="left:252.59px;top:1120.79px;width:60px;text-align:center;font-size:19.5px;color:#111;-webkit-text-stroke:0.4px #111;">50</div>
<div class="t" style="left:252.59px;top:1162.29px;width:60px;text-align:center;font-size:19.5px;color:#111;-webkit-text-stroke:0.4px #111;">110</div>
<div class="r" style="left:365.00px;top:1142.00px;width:2.00px;height:13.00px;background:#1a1a1a;"></div>
<div class="t" style="left:335.88px;top:1120.79px;width:60px;text-align:center;font-size:19.5px;color:#111;-webkit-text-stroke:0.4px #111;">55</div>
<div class="t" style="left:335.88px;top:1162.29px;width:60px;text-align:center;font-size:19.5px;color:#111;-webkit-text-stroke:0.4px #111;">121</div>
<div class="r" style="left:448.00px;top:1142.00px;width:2.00px;height:13.00px;background:#1a1a1a;"></div>
<div class="t" style="left:419.17px;top:1120.79px;width:60px;text-align:center;font-size:19.5px;color:#111;-webkit-text-stroke:0.4px #111;">60</div>
<div class="t" style="left:419.17px;top:1162.29px;width:60px;text-align:center;font-size:19.5px;color:#111;-webkit-text-stroke:0.4px #111;">132</div>
<div class="r" style="left:531.00px;top:1142.00px;width:2.00px;height:13.00px;background:#1a1a1a;"></div>
<div class="t" style="left:502.46px;top:1120.79px;width:60px;text-align:center;font-size:19.5px;color:#111;-webkit-text-stroke:0.4px #111;">65</div>
<div class="t" style="left:502.46px;top:1162.29px;width:60px;text-align:center;font-size:19.5px;color:#111;-webkit-text-stroke:0.4px #111;">143</div>
<div class="r" style="left:615.00px;top:1142.00px;width:2.00px;height:13.00px;background:#1a1a1a;"></div>
<div class="t" style="left:585.75px;top:1120.79px;width:60px;text-align:center;font-size:19.5px;color:#111;-webkit-text-stroke:0.4px #111;">70</div>
<div class="t" style="left:585.75px;top:1162.29px;width:60px;text-align:center;font-size:19.5px;color:#111;-webkit-text-stroke:0.4px #111;">154</div>
<div class="r" style="left:698.00px;top:1142.00px;width:2.00px;height:13.00px;background:#1a1a1a;"></div>
<div class="t" style="left:669.04px;top:1120.79px;width:60px;text-align:center;font-size:19.5px;color:#111;-webkit-text-stroke:0.4px #111;">75</div>
<div class="t" style="left:669.04px;top:1162.29px;width:60px;text-align:center;font-size:19.5px;color:#111;-webkit-text-stroke:0.4px #111;">165</div>
<div class="r" style="left:781.00px;top:1142.00px;width:2.00px;height:13.00px;background:#1a1a1a;"></div>
<div class="t" style="left:752.33px;top:1120.79px;width:60px;text-align:center;font-size:19.5px;color:#111;-webkit-text-stroke:0.4px #111;">80</div>
<div class="t" style="left:752.33px;top:1162.29px;width:60px;text-align:center;font-size:19.5px;color:#111;-webkit-text-stroke:0.4px #111;">176</div>
<div class="r" style="left:865.00px;top:1142.00px;width:2.00px;height:13.00px;background:#1a1a1a;"></div>
<div class="t" style="left:835.62px;top:1120.79px;width:60px;text-align:center;font-size:19.5px;color:#111;-webkit-text-stroke:0.4px #111;">85</div>
<div class="t" style="left:835.62px;top:1162.29px;width:60px;text-align:center;font-size:19.5px;color:#111;-webkit-text-stroke:0.4px #111;">187</div>
<div class="r" style="left:948.00px;top:1142.00px;width:2.00px;height:13.00px;background:#1a1a1a;"></div>
<div class="t" style="left:918.91px;top:1120.79px;width:60px;text-align:center;font-size:19.5px;color:#111;-webkit-text-stroke:0.4px #111;">90</div>
<div class="t" style="left:918.91px;top:1162.29px;width:60px;text-align:center;font-size:19.5px;color:#111;-webkit-text-stroke:0.4px #111;">198</div>
<div class="r" style="left:1031.00px;top:1142.00px;width:2.00px;height:13.00px;background:#1a1a1a;"></div>
<div class="t" style="left:1002.20px;top:1120.79px;width:60px;text-align:center;font-size:19.5px;color:#111;-webkit-text-stroke:0.4px #111;">95</div>
<div class="t" style="left:1002.20px;top:1162.29px;width:60px;text-align:center;font-size:19.5px;color:#111;-webkit-text-stroke:0.4px #111;">209</div>
<div class="r" style="left:1114.00px;top:1142.00px;width:2.00px;height:13.00px;background:#1a1a1a;"></div>
<div class="t" style="left:1085.49px;top:1120.79px;width:60px;text-align:center;font-size:19.5px;color:#111;-webkit-text-stroke:0.4px #111;">100</div>
<div class="t" style="left:1085.49px;top:1162.29px;width:60px;text-align:center;font-size:19.5px;color:#111;-webkit-text-stroke:0.4px #111;">220</div>
<div class="t" style="left:141.50px;top:1117.26px;font-size:18px;color:#222;-webkit-text-stroke:0.35px #222;">kg</div>
<div class="t" style="left:143.50px;top:1162.07px;font-size:20px;color:#111;font-weight:bold;">lb</div>
<div class="t" style="left:65.80px;top:1137.79px;font-size:19.5px;color:#222;-webkit-text-stroke:0.4px #222;">Weight</div>
<div class="t" style="left:974.00px;top:1086.92px;font-size:19px;color:#6c6c6c;letter-spacing:0.6px;-webkit-text-stroke:0.35px #6c6c6c;">* Only for Reference</div>
<div class="t" style="left:94.00px;top:1217.17px;font-size:25.2px;color:#333;letter-spacing:0.66px;-webkit-text-stroke:0.45px #333;">If you find out the pants are not suitable, please feel free to contact us via email,</div>
<div class="t" style="left:94.00px;top:1255.67px;font-size:25.2px;color:#333;letter-spacing:0.66px;-webkit-text-stroke:0.45px #333;">we will take care of you and your problem quickly.</div>
<svg width="1200" height="1400" viewBox="0 0 1200 1400">
<!-- left chart axis arrow head -->
<polygon points="72.8,671.5 67,688 78.6,688" fill="#1a1a1a"/>
<!-- bottom axis arrow head -->
<polygon points="1173,1149 1158.5,1143.5 1158.5,1154.5" fill="#1a1a1a"/>
<!-- blue length arrow -->
<line x1="65.5" y1="163" x2="65.5" y2="309" stroke="#5b9fd9" stroke-width="3"/>
<line x1="65.5" y1="336" x2="65.5" y2="478" stroke="#5b9fd9" stroke-width="3"/>
<polygon points="65.2,154.3 58.3,168 72,168" fill="#1f78d4"/>
<polygon points="65.2,488 58.5,474.5 72,474.5" fill="#1f78d4"/>
<text x="65" y="327.5" font-size="16" font-weight="bold" text-anchor="middle" fill="#222" font-family="Liberation Sans">C</text>
<!-- pants outline -->
<g fill="none" stroke="#1e1e1e" stroke-width="2.6" stroke-linejoin="round" stroke-linecap="round">
<path d="M107,160 C100,175 98,185 96.7,196.7 C93,205 90,215 89.5,230 C88,250 88.5,265 90.5,282 C93,320 96,345 101.7,366 C103,375 102,385 97,400 C94.5,410 94.5,425 96,445 C97.5,465 99,478 99.2,486.5 L122,486.5 C122,475 124,462 125,448 C126.5,430 127,410 127.5,385 C130,375 132.5,365 132.5,350 C133,335 133.7,320 135.5,300 C138,275 139.5,258 141,250 C142.2,246.5 143.5,243.5 145.6,241.3 C147.6,243.5 149.8,246.5 151.5,249.5 C155,262 157,285 159.5,315 C160,335 160,350 160.5,365 C162,378 166,385 166.5,395 C166.8,420 168.5,440 171.5,458 C172.5,470 172.5,480 172.5,487 L195.8,487 C195.8,475 195.5,468 196,460 C199,445 200,430 200,410 C198,395 193,385 193.5,365 C196,345 199,330 200.5,318 C203.5,300 205,275 205.5,250 C205.5,235 204,222 200,210 C199,205 198,200 197.5,196.7 C194,185 192,172 189,160"/>
<path d="M96.7,197.5 Q145,211 197,198.3"/>
<path d="M144.3,205 L144.3,209.5" stroke-width="2.2"/>
<path d="M144.3,232 L144.3,238.5" stroke-width="1.6"/>
</g>
<!-- waist top dark band -->
<path d="M107,160 Q148,173 189,159.5 Q148,163 107,160 Z" fill="#2a2a2a" stroke="#1e1e1e" stroke-width="1.8" stroke-linejoin="round"/>
<path d="M110,160 Q148,165 186,160 Q148,160 110,160 Z" fill="#555" opacity="0.6"/>
<!-- dotted ellipses -->
<g fill="none" stroke="#2a72bd" stroke-width="2.8" stroke-dasharray="3.4,5.4" stroke-linecap="butt">
<path d="M104,153.5 Q110,147.5 126.5,145.5"/>
<path d="M169.5,145.5 Q186,147 194,152.5"/>
<path d="M111,158.5 Q148,157 188,158.2"/>
<path d="M92,226.5 Q96,222.5 121.5,221.5"/>
<path d="M171,221 Q198,222 205,226.5"/>
<path d="M92,228 Q100,234 145,233.5 Q195,233 205,227.5"/>
</g>
<g stroke="#3d8fd6" stroke-width="2">
<line x1="129" y1="139" x2="129" y2="150"/>
<line x1="165.6" y1="139" x2="165.6" y2="150"/>
<line x1="129" y1="214" x2="129" y2="224.5"/>
<line x1="165.7" y1="214" x2="165.7" y2="224.5"/>
</g>
<text x="147.6" y="150.3" font-size="17" font-weight="bold" text-anchor="middle" fill="#1e1e1e" font-family="Liberation Sans">A</text>
<text x="147.8" y="227.3" font-size="19.5" font-weight="bold" text-anchor="middle" fill="#1e1e1e" font-family="Liberation Sans">B</text>
</svg>
</body></html>
